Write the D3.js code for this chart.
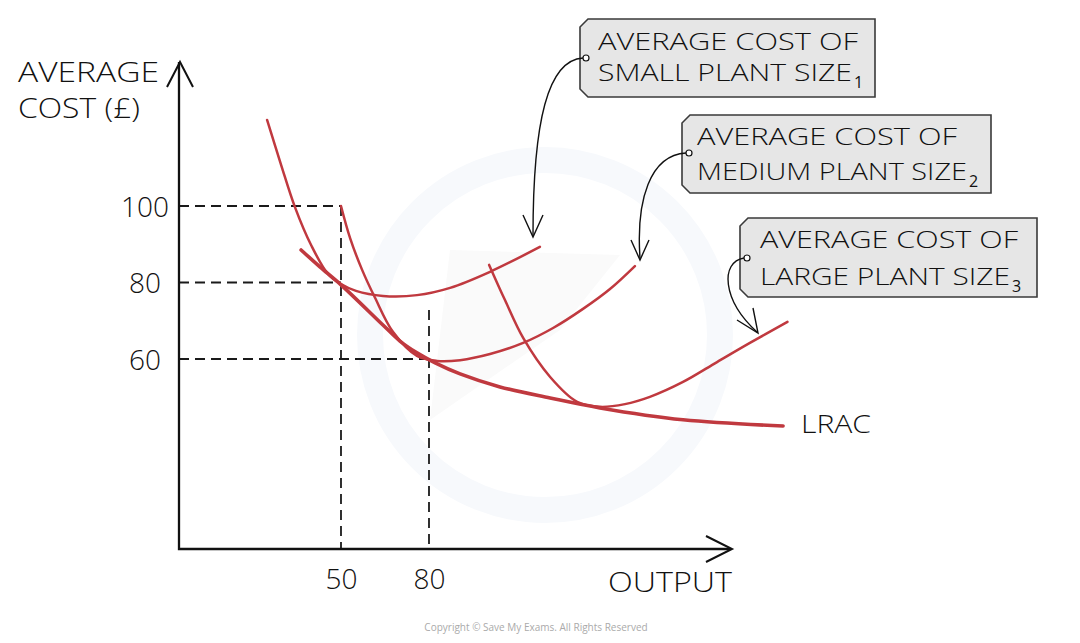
<!DOCTYPE html>
<html>
<head>
<meta charset="utf-8">
<script src="https://cdn.jsdelivr.net/npm/d3@7"></script>
<style>
  body { margin:0; background:#fff; }
  svg text { font-family:"Open Sans", sans-serif; fill:#111; }
</style>
</head>
<body>
<svg id="chart" width="1080" height="643"></svg>
<script>
// values (output, average cost)
var outputTicks = [50, 80];
var costTicks = [60, 80, 100];

var lrac = [[36.4,88.5],[42.8,84.1],[50,79.4],[64.3,68.9],[70.1,64.7],[75.9,61.6],[82.1,59.0],[90.6,56.1],[104.2,52.7],[121.3,49.8],[138.3,47.2],[166.6,44.1],[200.7,42.5]];
var sac1 = [[24.8,122.5],[29.6,110.7],[34.3,99.7],[39.8,89.8],[45.6,82.2],[50,79.6],[55.1,77.8],[64.3,76.5],[75.9,76.7],[87.2,78.6],[100.8,82.8],[117.8,89.3]];
var sac2 = [[50,100],[53.1,91.6],[57.2,83.3],[61.6,76.0],[67.7,67.1],[75.9,60.8],[82.7,59.5],[90.6,59.7],[100.8,61.3],[112.1,64.2],[122.3,68.1],[132.5,73.1],[141.7,78.3],[150.2,84.3]];
var sac3 = [[100.5,84.6],[105.9,75.4],[112.1,65.5],[121.3,55.3],[130.5,48.8],[138.3,47.5],[146.8,48.2],[155.3,50.1],[166.6,54.0],[178.2,59.2],[189.4,64.2],[202.2,69.7]];

// dashed guides: [output, cost]
var guidesH = [[50,100],[50,80],[80,60]];
var guidesV = [[50,100],[80,72.8]];

var labels = [
  {l1:"AVERAGE COST OF", l2:"SMALL PLANT SIZE", sub:"1"},
  {l1:"AVERAGE COST OF", l2:"MEDIUM PLANT SIZE", sub:"2"},
  {l1:"AVERAGE COST OF", l2:"LARGE PLANT SIZE", sub:"3"}
];

var red = "#c0393f";
var svg = d3.select("#chart");

var x = d3.scaleLinear().domain([0, 200]).range([194.33, 781]);
var y = d3.scaleLinear().domain([0, 140]).range([588.5, 53]);

var ax0 = 179, ay0 = 549;

// faint watermark
svg.append("circle").attr("cx", 545).attr("cy", 335).attr("r", 175)
  .attr("fill", "none").attr("stroke", "#f7f9fc").attr("stroke-width", 26);
svg.append("path").attr("d", "M450,250 L620,255 L560,330 L430,420 Z").attr("fill", "#fafafa");

// dashed guides
svg.selectAll(".gh").data(guidesH).enter().append("line")
  .attr("x1", ax0).attr("x2", function(d){ return x(d[0]); })
  .attr("y1", function(d){ return y(d[1]); }).attr("y2", function(d){ return y(d[1]); })
  .attr("stroke", "#1a1a1a").attr("stroke-width", 1.8).attr("stroke-dasharray", "10,6");
svg.selectAll(".gv").data(guidesV).enter().append("line")
  .attr("x1", function(d){ return x(d[0]); }).attr("x2", function(d){ return x(d[0]); })
  .attr("y1", function(d){ return y(d[1]); }).attr("y2", ay0)
  .attr("stroke", "#1a1a1a").attr("stroke-width", 1.8).attr("stroke-dasharray", "10,6");

// axes
svg.append("path").attr("d", "M" + ax0 + ",62 L" + ax0 + "," + ay0 + " L730," + ay0)
  .attr("fill", "none").attr("stroke", "#111").attr("stroke-width", 2.3);
svg.append("path").attr("d", "M167,87 L180,62 L193,87").attr("fill", "none").attr("stroke", "#111").attr("stroke-width", 2);
svg.append("path").attr("d", "M706,536 L732,549 L706,562").attr("fill", "none").attr("stroke", "#111").attr("stroke-width", 2);

var yAxis = svg.append("g").attr("transform", "translate(" + ax0 + ",0)")
  .call(d3.axisLeft(y).tickValues(costTicks).tickSize(0).tickPadding(34));
yAxis.select(".domain").remove();
yAxis.selectAll("text").attr("text-anchor", "middle").attr("dy", "0.36em")
  .style("font-family", "'Open Sans', sans-serif").style("font-size", "28px").style("font-weight", 300).attr("fill", "#111");

var xAxis = svg.append("g").attr("transform", "translate(0," + ay0 + ")")
  .call(d3.axisBottom(x).tickValues(outputTicks).tickSize(0).tickPadding(20));
xAxis.select(".domain").remove();
xAxis.selectAll("text").attr("dy", "0.71em")
  .style("font-family", "'Open Sans', sans-serif").style("font-size", "28px").style("font-weight", 300).attr("fill", "#111");

// curves
var line = d3.line().x(function(d){ return x(d[0]); }).y(function(d){ return y(d[1]); })
  .curve(d3.curveCatmullRom.alpha(0.5));

[sac1, sac2, sac3].forEach(function(c){
  svg.append("path").attr("d", line(c)).attr("fill", "none")
    .attr("stroke", red).attr("stroke-width", 2.5).attr("stroke-linecap", "round");
});
svg.append("path").attr("d", line(lrac)).attr("fill", "none")
  .attr("stroke", red).attr("stroke-width", 3.6).attr("stroke-linecap", "round");

// axis titles
function txt(s, px, py, size, len) {
  var t = svg.append("text").attr("x", px).attr("y", py).text(s)
    .style("font-size", size + "px").style("font-weight", 300).style("fill", "#111");
  if (len) t.attr("textLength", len).attr("lengthAdjust", "spacingAndGlyphs");
  return t;
}
txt("AVERAGE", 18, 82, 28, 141);
txt("COST (£)", 18, 118, 28, 122);
txt("OUTPUT", 608, 592, 27, 124);
txt("LRAC", 801, 433, 25, 70);

// label boxes
var boxes = [
  {x:580, y:19, w:295, h:78, tx:598, b1:50, b2:81, w1:260, w2:254, cx:586, cy:58},
  {x:682, y:115, w:309, h:78, tx:697, b1:145, b2:180, w1:260, w2:270, cx:689, cy:153},
  {x:740, y:218, w:297, h:79, tx:760, b1:248, b2:285, w1:258, w2:250, cx:747, cy:258}
];
var arrows = [
  {d:"M583,58 C548,60 533,120 533,236", head:"M523,215 L533,237 L543,215"},
  {d:"M686,153 C650,155 636,200 640,258", head:"M631,240 L640,260 L649,240"},
  {d:"M744,258 C720,262 722,300 757,332", head:"M737,320 L758,333 L753,308"}
];

boxes.forEach(function(b, i){
  var c = 8;
  svg.append("path")
    .attr("d", "M" + (b.x + c) + "," + b.y + " L" + (b.x + b.w) + "," + b.y + " L" + (b.x + b.w) + "," + (b.y + b.h) +
      " L" + (b.x + c) + "," + (b.y + b.h) + " L" + b.x + "," + (b.y + b.h - c) + " L" + b.x + "," + (b.y + c) + " Z")
    .attr("fill", "#e6e6e6").attr("stroke", "#3a3a3a").attr("stroke-width", 1.6);
  txt(labels[i].l1, b.tx, b.b1, 24, b.w1);
  txt(labels[i].l2, b.tx, b.b2, 24, b.w2);
  txt(labels[i].sub, b.tx + b.w2 + 2, b.b2 + 7, 16).style("font-weight", 400);

  svg.append("path").attr("d", arrows[i].d).attr("fill", "none").attr("stroke", "#111").attr("stroke-width", 1.4);
  svg.append("path").attr("d", arrows[i].head).attr("fill", "none").attr("stroke", "#111").attr("stroke-width", 1.4);
  svg.append("circle").attr("cx", b.cx).attr("cy", b.cy).attr("r", 3)
    .attr("fill", "#fff").attr("stroke", "#111").attr("stroke-width", 1.2);
});

svg.append("text").attr("x", 536).attr("y", 631).attr("text-anchor", "middle")
  .text("Copyright © Save My Exams. All Rights Reserved")
  .style("font-size", "10px").style("fill", "#aaa");
</script>
</body>
</html>
